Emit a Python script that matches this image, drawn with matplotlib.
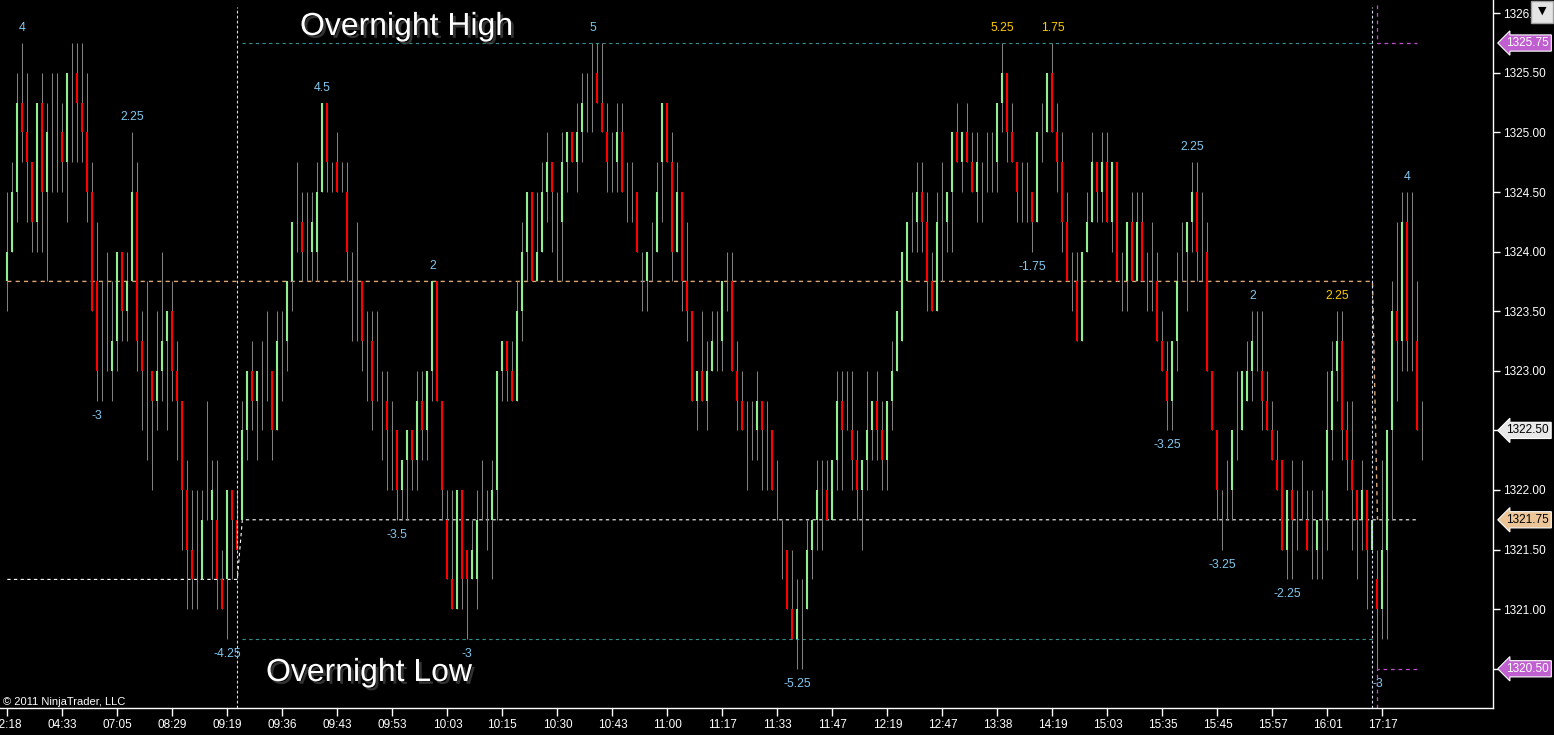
import matplotlib
matplotlib.use("Agg")
import matplotlib.pyplot as plt
from matplotlib import patheffects as pe
from matplotlib.patches import Rectangle
import numpy as np

plt.rcParams['font.family'] = ['Liberation Sans', 'DejaVu Sans']

# prices are stored in ticks above the base price
base = 1320.0
tick = 0.25

opens = [15, 16, 18, 21, 20, 19, 17, 21, 18, 20,
         20, 20, 19, 22, 22, 21, 20, 18, 15, 12,
         12, 12, 13, 16, 14, 15, 18, 13, 12, 12,
         11, 12, 13, 14, 12, 11, 8, 6, 5, 5,
         7, 7, 7, 5, 5, 8, 7, 7, 10, 12,
         11, 12, 12, 12, 10, 13, 13, 15, 17, 17,
         16, 16, 16, 18, 21, 19, 19, 18, 18, 14,
         14, 15, 13, 13, 11, 11, 11, 10, 10, 8,
         9, 10, 9, 11, 10, 12, 15, 11, 7, 5,
         4, 8, 6, 5, 5, 7, 7, 7, 8, 12,
         13, 12, 11, 14, 16, 18, 15, 16, 18, 19,
         17, 17, 19, 20, 19, 20, 21, 21, 22, 21,
         20, 19, 19, 20, 18, 18, 18, 15, 15, 16,
         16, 19, 21, 19, 16, 18, 15, 14, 11, 12,
         11, 12, 13, 13, 15, 15, 12, 11, 10, 10,
         10, 11, 10, 10, 8, 6, 6, 4, 3, 4,
         4, 6, 7, 8, 8, 7, 9, 11, 10, 10,
         9, 8, 9, 10, 11, 10, 9, 11, 12, 13,
         15, 17, 17, 18, 17, 15, 14, 17, 17, 18,
         20, 19, 20, 19, 18, 18, 19, 19, 19, 21,
         22, 20, 19, 18, 18, 18, 17, 20, 20, 22,
         20, 19, 17, 15, 15, 13, 16, 17, 19, 18,
         19, 17, 19, 15, 15, 17, 15, 17, 15, 15,
         15, 13, 12, 11, 13, 15, 16, 17, 18, 16,
         16, 12, 10, 7, 8, 8, 10, 10, 11, 12,
         13, 12, 11, 10, 9, 9, 6, 8, 7, 7,
         7, 6, 6, 7, 7, 10, 12, 13, 10, 9,
         8, 7, 8, 6, 5, 4, 6, 10, 14, 13,
         17, 13, 13, 10]

highs = [18, 19, 22, 23, 22, 19, 21, 22, 21, 22,
         22, 21, 22, 23, 23, 23, 22, 19, 17, 15,
         16, 15, 16, 16, 16, 20, 19, 14, 15, 12,
         14, 16, 14, 15, 13, 11, 9, 8, 8, 8,
         11, 9, 9, 6, 8, 8, 8, 11, 12, 13,
         12, 13, 14, 12, 14, 14, 15, 17, 19, 18,
         18, 18, 19, 21, 21, 19, 20, 19, 19, 16,
         17, 15, 14, 14, 14, 12, 12, 11, 10, 9,
         10, 10, 12, 12, 12, 15, 15, 11, 8, 8,
         8, 8, 6, 7, 8, 9, 8, 9, 12, 13,
         13, 13, 15, 17, 18, 18, 18, 19, 20, 19,
         18, 20, 20, 20, 21, 22, 22, 23, 23, 23,
         21, 20, 21, 21, 19, 19, 18, 16, 16, 17,
         19, 21, 21, 20, 19, 18, 17, 14, 12, 14,
         13, 14, 14, 15, 16, 16, 13, 12, 11, 11,
         12, 11, 11, 10, 9, 7, 6, 6, 5, 5,
         7, 7, 9, 9, 9, 9, 12, 12, 12, 12,
         10, 9, 12, 11, 12, 11, 11, 13, 14, 16,
         17, 18, 19, 19, 18, 16, 18, 19, 18, 20,
         21, 20, 21, 20, 20, 19, 20, 20, 21, 23,
         22, 21, 19, 19, 19, 18, 20, 21, 22, 23,
         21, 20, 18, 16, 16, 16, 18, 20, 19, 20,
         20, 19, 19, 16, 17, 18, 18, 18, 16, 17,
         16, 14, 13, 13, 16, 17, 17, 19, 19, 18,
         17, 12, 10, 8, 9, 10, 12, 12, 13, 14,
         14, 14, 12, 11, 10, 9, 8, 9, 8, 9,
         8, 8, 7, 8, 12, 13, 14, 14, 11, 11,
         8, 9, 8, 7, 6, 9, 10, 15, 17, 18,
         18, 18, 15, 11]

lows = [14, 16, 17, 19, 17, 16, 16, 16, 15, 18,
        18, 18, 17, 19, 19, 19, 17, 14, 11, 11,
        12, 11, 12, 13, 13, 15, 12, 10, 9, 8,
        10, 11, 10, 11, 9, 6, 4, 4, 4, 5,
        7, 5, 4, 4, 3, 5, 6, 7, 9, 10,
        9, 10, 11, 9, 10, 11, 12, 14, 16, 15,
        15, 15, 15, 18, 18, 18, 18, 18, 15, 13,
        13, 12, 11, 10, 11, 9, 8, 8, 7, 7,
        7, 8, 8, 9, 9, 11, 11, 7, 5, 4,
        4, 4, 3, 5, 4, 7, 6, 5, 7, 11,
        11, 11, 11, 13, 15, 15, 15, 16, 17, 16,
        15, 15, 18, 19, 18, 19, 20, 20, 21, 20,
        18, 18, 18, 18, 17, 17, 16, 14, 14, 15,
        16, 17, 19, 15, 16, 14, 13, 11, 10, 11,
        10, 12, 12, 12, 14, 12, 10, 10, 8, 9,
        9, 8, 8, 8, 7, 5, 4, 3, 2, 2,
        4, 5, 6, 6, 7, 7, 8, 8, 10, 8,
        7, 6, 8, 9, 9, 8, 8, 10, 12, 13,
        15, 16, 16, 16, 14, 14, 14, 15, 16, 16,
        19, 18, 19, 18, 17, 17, 18, 18, 18, 20,
        19, 19, 17, 17, 17, 16, 17, 19, 20, 20,
        18, 16, 15, 14, 13, 13, 16, 17, 17, 17,
        17, 16, 15, 14, 14, 15, 15, 15, 14, 14,
        13, 12, 10, 10, 12, 15, 14, 16, 15, 15,
        12, 10, 7, 6, 7, 7, 9, 10, 11, 11,
        12, 10, 10, 9, 8, 6, 5, 5, 6, 7,
        6, 5, 5, 5, 6, 9, 11, 9, 8, 6,
        5, 6, 4, 6, 2, 3, 3, 7, 11, 12,
        12, 12, 10, 9]

closes = [16, 18, 21, 20, 19, 17, 21, 18, 20, 20,
          20, 19, 22, 22, 21, 20, 18, 14, 12, 12,
          12, 13, 16, 14, 15, 18, 13, 12, 12, 11,
          12, 13, 14, 12, 11, 8, 6, 5, 5, 7,
          7, 8, 5, 4, 8, 7, 6, 10, 12, 11,
          12, 12, 12, 10, 13, 13, 15, 17, 17, 16,
          16, 17, 18, 21, 19, 19, 18, 18, 16, 14,
          14, 13, 13, 11, 11, 11, 10, 10, 8, 9,
          10, 9, 11, 10, 12, 15, 11, 8, 5, 4,
          8, 5, 5, 6, 7, 7, 7, 8, 12, 13,
          12, 11, 14, 16, 18, 15, 16, 18, 19, 18,
          17, 19, 20, 19, 20, 21, 21, 21, 21, 20,
          19, 19, 20, 18, 18, 18, 16, 15, 16, 16,
          18, 21, 19, 16, 18, 15, 14, 11, 12, 11,
          12, 13, 13, 15, 15, 12, 11, 10, 10, 10,
          11, 10, 10, 8, 8, 6, 4, 3, 4, 4,
          6, 7, 8, 8, 7, 9, 11, 10, 10, 9,
          8, 9, 10, 11, 10, 9, 11, 12, 14, 16,
          17, 17, 18, 17, 15, 14, 17, 17, 18, 20,
          19, 20, 19, 18, 19, 18, 19, 19, 21, 22,
          20, 19, 18, 18, 18, 17, 20, 20, 22, 20,
          19, 17, 15, 15, 13, 16, 17, 19, 18, 19,
          17, 19, 15, 15, 17, 15, 17, 15, 15, 15,
          13, 12, 11, 13, 15, 15, 17, 18, 16, 16,
          12, 10, 8, 7, 8, 10, 10, 12, 12, 13,
          13, 11, 10, 9, 8, 6, 8, 7, 7, 7,
          6, 6, 7, 7, 10, 12, 13, 10, 9, 8,
          7, 8, 6, 7, 4, 6, 10, 14, 13, 17,
          13, 13, 10, 10]

time_labels = ["02:18", "04:33", "07:05", "08:29", "09:19", "09:36", "09:43",
               "09:53", "10:03", "10:15", "10:30", "10:43", "11:00", "11:17",
               "11:33", "11:47", "12:19", "12:47", "13:38", "14:19", "15:03",
               "15:35", "15:45", "15:57", "16:01", "17:17"]
label_step = 11

swing_bars = [3, 18, 25, 44, 63, 78, 85, 92, 117, 158, 199, 205, 209,
              232, 237, 243, 249, 256, 266, 274, 280]
swing_text = ["4", "-3", "2.25", "-4.25", "4.5", "-3.5", "2", "-3", "5", "-5.25",
              "5.25", "-1.75", "1.75", "-3.25", "2.25", "-3.25", "2", "-2.25",
              "2.25", "-3", "4"]
swing_double = [199, 209, 266]

session_bars = [46, 273]
prev_low = 1321.25
pivot = 1323.75
day_low_line = 1321.75
on_high = 1325.75
on_low = 1320.75
new_high = 1325.75
new_low = 1320.50
last_price = 1322.50

o = base + tick * np.array(opens)
h = base + tick * np.array(highs)
l = base + tick * np.array(lows)
c = base + tick * np.array(closes)
x = np.arange(len(o))

fig = plt.figure(figsize=(15.54, 7.35), dpi=100, facecolor='black')
ax = fig.add_axes([0, 27 / 735, 1493 / 1554, 708 / 735], facecolor='black')
ax.set_xlim(-1.46, 297.1)
ax.set_ylim(1320.171, 1326.111)

ax.vlines(x, l, h, color='#808080', lw=0.75, zorder=3)
up = c > o
dn = c < o
ax.vlines(x[up], o[up], c[up], color='#90ee90', lw=1.5, zorder=4)
ax.vlines(x[dn], o[dn], c[dn], color='#ff0000', lw=1.5, zorder=4)

dash = (0, (3, 3))
ax.plot([0, 46, 47, 282], [prev_low, prev_low, day_low_line, day_low_line],
        color='white', lw=0.8, ls=dash, zorder=2)
ax.plot([0, 273, 274], [pivot, pivot, day_low_line], color='#dca878',
        lw=1.0, ls=dash, zorder=2)
ax.plot([47, 273], [on_high, on_high], color='#2e9090', lw=0.8, ls=dash, zorder=2)
ax.plot([47, 273], [on_low, on_low], color='#2e9090', lw=0.8, ls=dash, zorder=2)
ax.plot([274, 274, 282], [1326.07, new_high, new_high], color='#c050d0',
        lw=0.9, ls=dash, zorder=2)
ax.plot([274, 274, 282], [1320.171, new_low, new_low], color='#c050d0',
        lw=0.9, ls=dash, zorder=2)
for sb in session_bars:
    ax.plot([sb, sb], [1320.171, 1326.05], color='#d0dcf0', lw=0.8,
            ls=(0, (2.5, 2)), zorder=5)

off = 0.126
for b, t in zip(swing_bars, swing_text):
    col = '#ffcc00' if b in swing_double else '#80c8f0'
    if t.startswith('-'):
        ax.text(b, l[b] - off, t, color=col, fontsize=8.8, ha='center', va='center', zorder=6)
    else:
        ax.text(b, h[b] + off, t, color=col, fontsize=8.8, ha='center', va='center', zorder=6)

for s in ['top', 'left']:
    ax.spines[s].set_visible(False)
for s in ['right', 'bottom']:
    ax.spines[s].set_color('white')
    ax.spines[s].set_linewidth(1)

ax.set_xticks(np.arange(0, len(time_labels) * label_step, label_step))
ax.set_xticklabels(time_labels)
ax.tick_params(axis='x', colors='white', length=6, width=1, labelsize=8.5, pad=2)

ax.yaxis.tick_right()
yt = np.arange(1320.5, 1326.01, 0.5)
ax.set_yticks(yt)
ax.set_yticklabels(['' if v in (1320.5, 1322.5) else f'{v:.2f}' for v in yt])
ax.tick_params(axis='y', colors='white', length=5, width=1, labelsize=8.5, pad=2)

box_prices = [new_high, last_price, day_low_line, new_low]
box_colors = ['#c060d0', '#e8e8e8', '#ebc597', '#c060d0']
for p, bc in zip(box_prices, box_colors):
    ax.text(1.009, p, f'{p:.2f}', transform=ax.get_yaxis_transform(), ha='left',
            va='center', fontsize=8.5, color='black' if bc != '#c060d0' else 'white',
            bbox=dict(boxstyle='larrow,pad=0.18', fc=bc, ec='white', lw=0.8),
            clip_on=False, zorder=7)

shadow = [pe.SimplePatchShadow(offset=(2, -2), shadow_rgbFace='#555555', alpha=0.6), pe.Normal()]
fig.text(300 / 1554, 1 - 27 / 735, 'Overnight High', color='white', fontsize=23,
         ha='left', va='center', path_effects=shadow)
fig.text(266 / 1554, 1 - 673 / 735, 'Overnight Low', color='white', fontsize=23,
         ha='left', va='center', path_effects=shadow)
fig.text(3 / 1554, 1 - 702 / 735, '© 2011 NinjaTrader, LLC', color='white',
         fontsize=8, ha='left', va='center')

fig.add_artist(Rectangle((1531 / 1554, 1 - 23 / 735), 22 / 1554, 22 / 735,
                         transform=fig.transFigure, fc='#e4e4e4', ec='#a0a0a0', lw=1))
fig.text(1542 / 1554, 1 - 11 / 735, '▼', color='black', fontsize=8, ha='center',
         va='center', family=['DejaVu Sans'])

fig.savefig('out.png', dpi=100, facecolor='black')
